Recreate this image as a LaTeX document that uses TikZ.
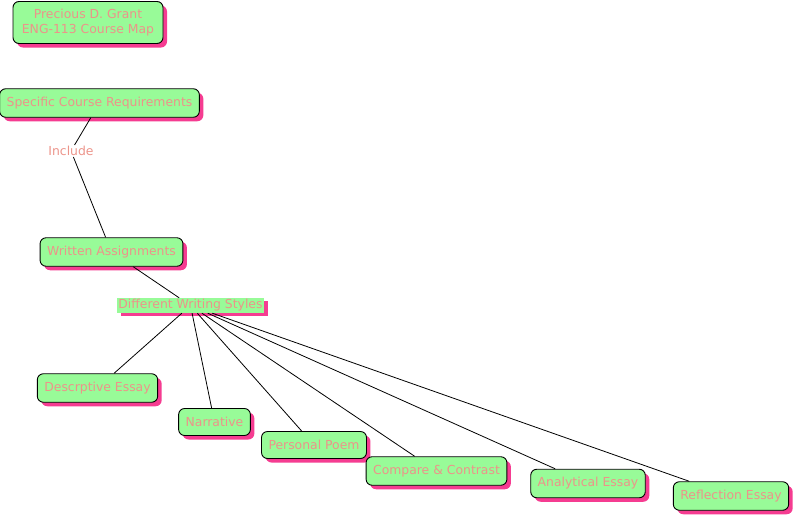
\documentclass[tikz,border=0pt]{standalone}
\usepackage{fontspec}
\setmainfont{DejaVu Sans}
\usepackage{xcolor}
\usepackage{tikz}
\usetikzlibrary{shadows}
\definecolor{mapgreen}{RGB}{152,251,152}
\definecolor{maptext}{RGB}{236,148,138}
\definecolor{mappink}{RGB}{245,60,145}
\begin{document}
\begin{tikzpicture}[x=1pt,y=1pt,
  topic/.style={draw=black,fill=mapgreen,rounded corners=6pt,line width=0.9pt,
    text=maptext,font=\fontsize{12.4}{14.5}\selectfont,inner xsep=7pt,
    minimum height=28.5pt,align=center,
    drop shadow={shadow xshift=4pt,shadow yshift=-4pt,fill=mappink,opacity=1}},
  link/.style={text=maptext,font=\fontsize{12.4}{14.5}\selectfont,inner sep=1pt},
  hilite/.style={fill=mapgreen,text=maptext,font=\fontsize{12.4}{14.5}\selectfont,inner sep=1.5pt,
    drop shadow={shadow xshift=4pt,shadow yshift=-3pt,fill=mappink,opacity=1}}]
\useasboundingbox (0,0) rectangle (795,-517);
\node[topic,minimum height=42pt,minimum width=150pt] (title) at (88,-22.5) {Precious D. Grant\\ENG-113 Course Map};
\node[topic] (req) at (99.5,-103) {Specific Course Requirements};
\node[link] (incl) at (71,-151) {Include};
\node[topic] (wa) at (111.5,-252) {Written Assignments};
\node[hilite] (dws) at (190.5,-305.5) {Different Writing Styles};
\node[topic] (desc) at (97.5,-388) {Descrptive Essay};
\node[topic,minimum height=27pt] (narr) at (214.5,-422) {Narrative};
\node[topic,minimum height=27pt] (poem) at (314,-445) {Personal Poem};
\node[topic] (comp) at (436.5,-471) {Compare \& Contrast};
\node[topic] (anal) at (588,-483.5) {Analytical Essay};
\node[topic] (refl) at (731,-496) {Reflection Essay};
\draw[line width=0.8pt] (req) -- (incl);
\draw[line width=0.8pt] (incl) -- (wa);
\draw[line width=0.8pt] (wa) -- (dws);
\foreach \n in {desc,narr,poem,comp,anal,refl}
  \draw[line width=0.8pt] (dws) -- (\n);
\end{tikzpicture}
\end{document}
